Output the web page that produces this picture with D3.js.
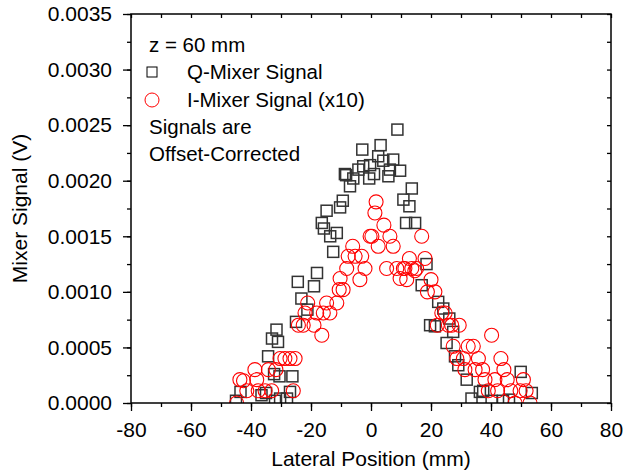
<!DOCTYPE html>
<html><head><meta charset="utf-8">
<script src="https://cdn.jsdelivr.net/npm/d3@7"></script>
<style>body{margin:0;background:#fff}svg{display:block}text{font-family:"Liberation Sans",Arial,Helvetica,sans-serif}</style>
</head><body>
<svg id="c" width="623" height="476"></svg>
<script>
// Q-Mixer signal (squares)
const qX = [-45.0,-43.5,-36.5,-35.0,-32.0,-30.3,-28.0,-27.0,-34.3,-32.3,-30.5,-26.2,-33.0,-31.0,-31.5,-25.0,-23.2,-24.4,-19.0,-21.2,-18.0,-12.6,-13.6,-11.4,-15.7,-16.4,-14.8,-10.3,-9.4,-7.0,-8.7,-8.3,-5.9,-4.2,-2.6,-0.3,-0.6,1.0,-2.9,2.4,3.2,4.1,5.8,6.3,7.4,8.8,9.7,10.8,12.8,13.6,11.7,14.7,18.5,16.9,19.7,21.3,22.4,24.1,26.1,27.4,25.2,28.0,29.1,31.9,33.5,36.3,37.4,40.2,44.0,49.9,53.6,46.0];
const qY = [0.00002,0.0001,0.00007,0.00009,0.00002,0.00004,0.00004,0.0001,0.00042,0.00026,0.00024,0.00024,0.00058,0.00055,0.00066,0.00073,0.00094,0.00109,0.00105,0.00084,0.00117,0.00136,0.0015,0.00153,0.00157,0.00162,0.00173,0.00176,0.00182,0.00195,0.00206,0.00205,0.00202,0.0021,0.00213,0.00214,0.00202,0.00206,0.00228,0.00222,0.00232,0.00218,0.00204,0.0021,0.00219,0.00246,0.00209,0.00183,0.00177,0.00193,0.00162,0.00162,0.00125,0.00106,0.0007,0.00069,0.00091,0.00085,0.00076,0.00064,0.00054,0.00042,0.00034,0.00021,0.00004,0.0001,0.00011,0.00002,0.00002,0.00028,0.00009,0.00003];
// I-Mixer signal x10 (circles)
const iX = [-44.8,-43.7,-42.5,-41.4,-38.7,-38.1,-37.6,-35.3,-34.2,-33.1,-31.7,-30.3,-28.7,-27.0,-25.3,-25.9,-24.2,-22.6,-19.0,-22.0,-18.1,-15.9,-13.7,-21.1,-14.8,-11.4,-16.4,-10.6,-10.3,-8.1,-7.6,-5.3,-3.1,-6.1,-3.7,-2.0,-0.3,0.3,1.3,1.7,2.4,4.3,6.3,7.4,5.2,8.6,11.3,13.6,15.2,9.7,11.9,12.8,18.0,16.9,10.8,14.6,20.0,18.8,21.3,23.6,24.7,22.1,25.8,26.9,29.4,40.2,27.4,32.4,34.1,28.6,30.8,35.8,43.3,31.3,34.7,37.2,44.3,38.0,41.3,45.4,50.8,39.1,42.2,46.6,49.7,51.7,48.0,53.0,-9.3];
const iY = [0.0,0.00021,0.0002,0.00011,0.0003,0.00021,0.00011,0.00011,0.0003,0.00011,0.0003,0.0004,0.0004,0.0004,0.0004,0.00011,0.0007,0.0007,0.0007,0.00081,0.00081,0.00081,0.00081,0.0009,0.0009,0.0009,0.00061,0.00102,0.00112,0.00121,0.00132,0.00132,0.00132,0.00141,0.00111,0.00121,0.0015,0.0015,0.00171,0.00181,0.00141,0.0016,0.0015,0.00141,0.00121,0.00121,0.00121,0.00121,0.00121,0.00112,0.00111,0.0013,0.0013,0.0015,0.00121,0.00119,0.00111,0.001,0.001,0.00081,0.00081,0.0007,0.0007,0.0007,0.0007,0.00061,0.00051,0.00051,0.00051,0.0004,0.0004,0.0004,0.0004,0.0003,0.0003,0.0003,0.0003,0.00021,0.00021,0.00021,0.00021,0.00011,0.00011,0.00011,0.00011,0.00011,0.0,0.0,0.00102];
const xTicks = [-80,-60,-40,-20,0,20,40,60,80];
const yTicks = [0,0.0005,0.001,0.0015,0.002,0.0025,0.003,0.0035];
const legendLines = ["z = 60 mm","Q-Mixer Signal","I-Mixer Signal (x10)","Signals are","Offset-Corrected"];

const L=131,R=611,T=14,B=403;
const svg=d3.select("#c");
const x=d3.scaleLinear().domain([-80,80]).range([L,R]);
const y=d3.scaleLinear().domain([0,0.0035]).range([B,T]);
const fs="21px";

svg.append("defs").append("clipPath").attr("id","clip").append("rect").attr("x",L).attr("y",T).attr("width",R-L).attr("height",B-T);

const gData=svg.append("g").attr("clip-path","url(#clip)");
const sq=11;
gData.selectAll("rect.q").data(qX.map((v,i)=>[v,qY[i]])).join("rect")
  .attr("x",d=>x(d[0])-sq/2).attr("y",d=>y(d[1])-sq/2).attr("width",sq).attr("height",sq)
  .attr("fill","none").attr("stroke","#333").attr("stroke-width",1.5);
gData.selectAll("circle.i").data(iX.map((v,i)=>[v,iY[i]])).join("circle")
  .attr("cx",d=>x(d[0])).attr("cy",d=>y(d[1])).attr("r",7)
  .attr("fill","none").attr("stroke","#ff0000").attr("stroke-width",1.1);

// axes
const minorX=d3.range(-80,81,10), minorY=d3.range(0,0.00351,0.00025);
function style(g){g.select(".domain").remove();g.selectAll("line").attr("stroke","#000").attr("stroke-width",1.3);g.selectAll("text").style("font-size",fs).attr("fill","#000");}
svg.append("g").attr("transform",`translate(0,${B})`).call(d3.axisBottom(x).tickValues(minorX).tickSize(4).tickFormat("")).call(style);
svg.append("g").attr("transform",`translate(0,${B})`).call(d3.axisBottom(x).tickValues(xTicks).tickSize(8).tickPadding(11).tickFormat(d=>String(d))).call(style);
svg.append("g").attr("transform",`translate(${L},0)`).call(d3.axisLeft(y).tickValues(minorY).tickSize(4).tickFormat("")).call(style);
svg.append("g").attr("transform",`translate(${L},0)`).call(d3.axisLeft(y).tickValues(yTicks).tickSize(8).tickPadding(11).tickFormat(d=>d.toFixed(4))).call(style);
svg.append("g").attr("transform",`translate(0,${T})`).call(d3.axisBottom(x).tickValues(minorX).tickSize(4).tickFormat("")).call(style);
svg.append("g").attr("transform",`translate(${R},0)`).call(d3.axisLeft(y).tickValues(minorY).tickSize(4).tickFormat("")).call(style);
svg.append("rect").attr("x",L).attr("y",T).attr("width",R-L).attr("height",B-T).attr("fill","none").attr("stroke","#000").attr("stroke-width",1.5);

// axis titles
svg.append("text").attr("x",(L+R)/2).attr("y",466).attr("text-anchor","middle").style("font-size",fs).text("Lateral Position (mm)");
svg.append("text").attr("transform",`translate(27,${(T+B)/2}) rotate(-90)`).attr("text-anchor","middle").style("font-size",fs).text("Mixer Signal (V)");

// legend
const lg=svg.append("g");
const lx=[149,187,187,149,149], ly=[52,79,107,134,161];
legendLines.forEach((t,i)=>lg.append("text").attr("x",lx[i]).attr("y",ly[i]).style("font-size","20.5px").text(t));
lg.append("rect").attr("x",147).attr("y",67).attr("width",10).attr("height",10).attr("fill","none").attr("stroke","#000").attr("stroke-width",1);
lg.append("circle").attr("cx",152).attr("cy",100).attr("r",7).attr("fill","none").attr("stroke","#ff0000").attr("stroke-width",1);
</script>
</body></html>
